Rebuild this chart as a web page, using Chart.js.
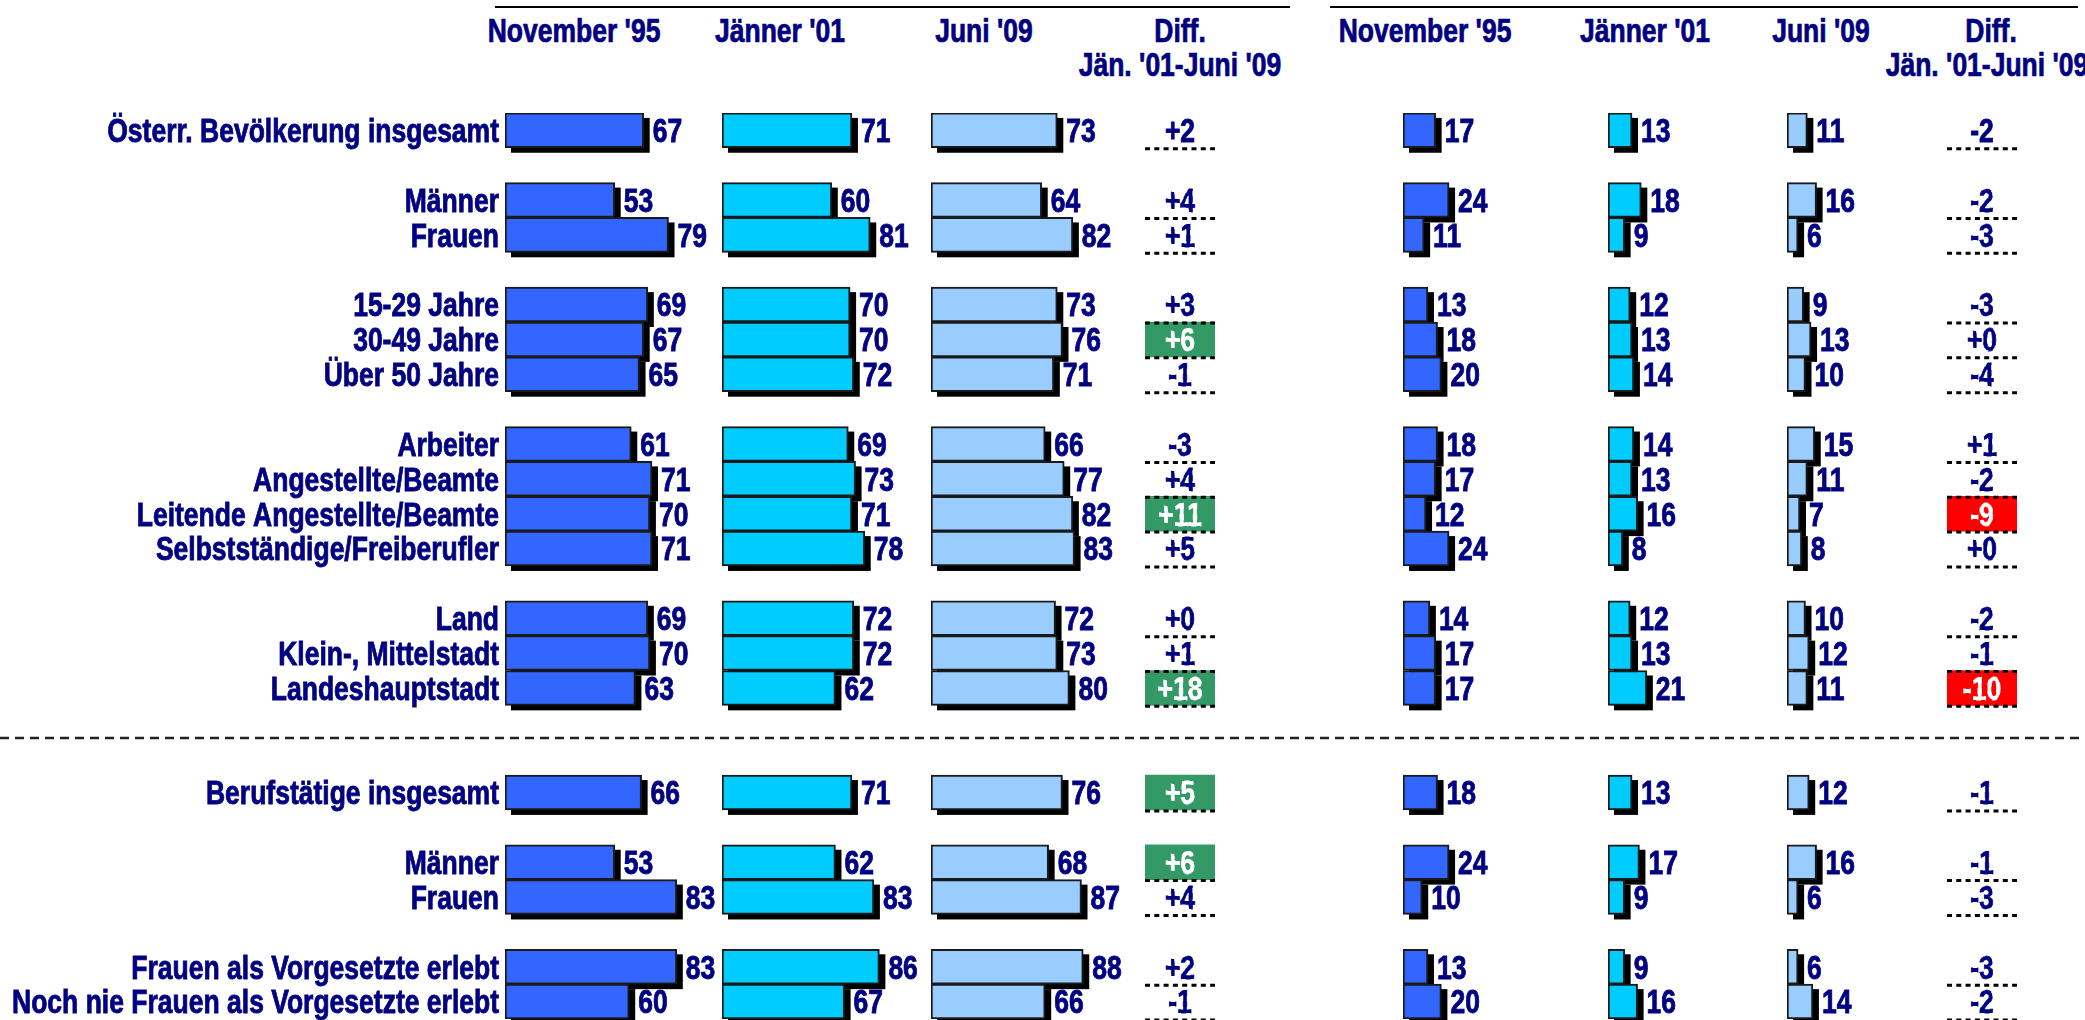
<!DOCTYPE html>
<html>
<head>
<meta charset="utf-8">
<script src="https://cdn.jsdelivr.net/npm/chart.js@4.4.1/dist/chart.umd.min.js"></script>
<style>
  body { margin: 0; background: #fff; width: 2085px; height: 1020px; overflow: hidden; position: relative;
         font-family: 'Liberation Sans', Arial, sans-serif; }
  canvas { position: absolute; top: 0; }
  .hd { position: absolute; transform: translate(-50%, -50%) scaleY(1.22); white-space: nowrap; font-weight: bold;
        font-size: 26.5px; line-height: 1; color: #000080; -webkit-text-stroke: 0.6px #000080; }
  .rule { position: absolute; top: 6px; height: 2px; background: #000; }
  svg { position: absolute; left: 0; top: 0; }
</style>
</head>
<body>
<div class="rule" style="left:495px;width:795px"></div>
<div class="rule" style="left:1330px;width:748px"></div>
<svg width="2085" height="1020"><line x1="0" y1="738" x2="2085" y2="738" stroke="#222" stroke-width="2.5" stroke-dasharray="9 6"/></svg>
<div id="heads"></div>
<script>
// row labels (empty strings are the gaps between groups)
const rows = ['Österr. Bevölkerung insgesamt', '', 'Männer', 'Frauen', '',
  '15-29 Jahre', '30-49 Jahre', 'Über 50 Jahre', '',
  'Arbeiter', 'Angestellte/Beamte', 'Leitende Angestellte/Beamte', 'Selbstständige/Freiberufler', '',
  'Land', 'Klein-, Mittelstadt', 'Landeshauptstadt', '', '',
  'Berufstätige insgesamt', '', 'Männer', 'Frauen', '',
  'Frauen als Vorgesetzte erlebt', 'Noch nie Frauen als Vorgesetzte erlebt'];

// left block
const nov95A = [67, null, 53, 79, null, 69, 67, 65, null, 61, 71, 70, 71, null, 69, 70, 63, null, null, 66, null, 53, 83, null, 83, 60];
const jan01A = [71, null, 60, 81, null, 70, 70, 72, null, 69, 73, 71, 78, null, 72, 72, 62, null, null, 71, null, 62, 83, null, 86, 67];
const jun09A = [73, null, 64, 82, null, 73, 76, 71, null, 66, 77, 82, 83, null, 72, 73, 80, null, null, 76, null, 68, 87, null, 88, 66];
const diffA  = [2, null, 4, 1, null, 3, 6, -1, null, -3, 4, 11, 5, null, 0, 1, 18, null, null, 5, null, 6, 4, null, 2, -1];
const sigA   = [0, 0, 0, 0, 0, 0, 1, 0, 0, 0, 0, 1, 0, 0, 0, 0, 1, 0, 0, 1, 0, 1, 0, 0, 0, 0];

// right block
const nov95B = [17, null, 24, 11, null, 13, 18, 20, null, 18, 17, 12, 24, null, 14, 17, 17, null, null, 18, null, 24, 10, null, 13, 20];
const jan01B = [13, null, 18, 9, null, 12, 13, 14, null, 14, 13, 16, 8, null, 12, 13, 21, null, null, 13, null, 17, 9, null, 9, 16];
const jun09B = [11, null, 16, 6, null, 9, 13, 10, null, 15, 11, 7, 8, null, 10, 12, 11, null, null, 12, null, 16, 6, null, 6, 14];
const diffB  = [-2, null, -2, -3, null, -3, 0, -4, null, 1, -2, -9, 0, null, -2, -1, -10, null, null, -1, null, -1, -3, null, -3, -2];
const sigB   = [0, 0, 0, 0, 0, 0, 0, 0, 0, 0, 0, 1, 0, 0, 0, 0, 1, 0, 0, 0, 0, 0, 0, 0, 0, 0];

const colHeads = ["November '95", "Jänner '01", "Juni '09", 'Diff.'];
const diffSub = "Jän. '01-Juni '09";

const NAVY = '#000080';
const FONT = "bold 26.5px 'Liberation Sans', Arial, sans-serif";
const STRETCH = 1.22;   // the original lettering is tall and narrow
const H = 1020;
const TOP = 112.9, ROWH = 34.85;
const BOTTOM = H - TOP - rows.length * ROWH;

// headers
const heads = document.getElementById('heads');
function head(text, x, y) {
  const d = document.createElement('div');
  d.className = 'hd';
  d.textContent = text;
  d.style.left = x + 'px';
  d.style.top = y + 'px';
  heads.appendChild(d);
}
[574, 780, 984, 1180].forEach((x, i) => head(colHeads[i], x, 31));
head(diffSub, 1180, 65);
[1425, 1645, 1821, 1991].forEach((x, i) => head(colHeads[i], x, 31));
head(diffSub, 1987, 65);

function tallText(ctx, text, x, y) {
  ctx.save();
  ctx.translate(x, y);
  ctx.scale(1, STRETCH);
  ctx.strokeStyle = ctx.fillStyle;
  ctx.lineWidth = 0.7;
  ctx.fillText(text, 0, 0);
  ctx.strokeText(text, 0, 0);
  ctx.restore();
}

// black drop shadow behind each bar
const shadow = {
  id: 'shadow',
  beforeDatasetsDraw(chart) {
    const ctx = chart.ctx;
    const vals = chart.data.datasets[0].data;
    ctx.save();
    ctx.fillStyle = '#000';
    chart.getDatasetMeta(0).data.forEach((el, i) => {
      if (vals[i] == null) return;
      const p = el.getProps(['x', 'y', 'base', 'height'], true);
      ctx.fillRect(p.base + 6, p.y - p.height / 2 + 5, p.x - p.base, p.height);
    });
    ctx.restore();
  }
};

// value next to the bar end, row names left of the first column
const valueLabels = {
  id: 'valueLabels',
  afterDatasetsDraw(chart) {
    const ctx = chart.ctx;
    const vals = chart.data.datasets[0].data;
    ctx.save();
    ctx.font = FONT;
    ctx.fillStyle = NAVY;
    ctx.textBaseline = 'middle';
    ctx.textAlign = 'left';
    chart.getDatasetMeta(0).data.forEach((el, i) => {
      if (vals[i] == null) return;
      const p = el.getProps(['x', 'y'], true);
      tallText(ctx, String(vals[i]), p.x + 9, p.y + 3);
    });
    if (chart.options.plugins.valueLabels.rowNames) {
      const y = chart.scales.y;
      ctx.textAlign = 'right';
      chart.data.labels.forEach((lab, i) => {
        if (lab) tallText(ctx, lab, chart.chartArea.left - 6, y.getPixelForValue(i) + 3);
      });
    }
    ctx.restore();
  }
};

function barChart(left, values, color, ppu, withLabels) {
  const cv = document.createElement('canvas');
  const labelW = withLabels ? left : 0;
  const areaW = 240;
  cv.width = labelW + areaW;
  cv.height = H;
  cv.style.left = (left - labelW) + 'px';
  document.body.appendChild(cv);
  new Chart(cv, {
    type: 'bar',
    data: {
      labels: rows,
      datasets: [{
        data: values,
        backgroundColor: color,
        borderColor: '#1a1a1a',
        borderWidth: 2,
        borderSkipped: false,
        barPercentage: 1,
        categoryPercentage: 1
      }]
    },
    options: {
      indexAxis: 'y',
      responsive: false,
      animation: false,
      layout: { padding: { top: TOP, bottom: BOTTOM, left: labelW, right: 0 } },
      plugins: { legend: { display: false }, tooltip: { enabled: false }, valueLabels: { rowNames: withLabels } },
      scales: {
        x: { display: false, min: 0, max: areaW / ppu },
        y: { display: false }
      }
    },
    plugins: [shadow, valueLabels]
  });
}

function fmtDiff(d) {
  return d > 0 ? '+' + d : (d === 0 ? '+0' : String(d));
}

// difference column: coloured box for significant changes, dotted rule under each row
const diffMarks = {
  id: 'diffMarks',
  afterDatasetsDraw(chart) {
    const ctx = chart.ctx;
    const diffs = chart.options.plugins.diffMarks.diffs;
    const sig = chart.options.plugins.diffMarks.sig;
    const y = chart.scales.y;
    const w = chart.width;
    ctx.save();
    ctx.font = FONT;
    ctx.textAlign = 'center';
    ctx.textBaseline = 'middle';
    diffs.forEach((d, i) => {
      if (d == null) return;
      const yc = y.getPixelForValue(i);
      ctx.fillStyle = sig[i] ? '#fff' : NAVY;
      tallText(ctx, fmtDiff(d), w / 2, yc + 3);
      ctx.beginPath();
      ctx.setLineDash([5, 4.3]);
      ctx.lineWidth = 3;
      ctx.strokeStyle = '#000';
      ctx.moveTo(0, yc + ROWH / 2 + 1);
      ctx.lineTo(w, yc + ROWH / 2 + 1);
      ctx.stroke();
    });
    ctx.restore();
  }
};

function diffChart(left, diffs, sig) {
  const cv = document.createElement('canvas');
  cv.width = 70;
  cv.height = H;
  cv.style.left = left + 'px';
  document.body.appendChild(cv);
  new Chart(cv, {
    type: 'bar',
    data: {
      labels: rows,
      datasets: [{
        data: diffs.map((d, i) => sig[i] ? [0, 1] : null),
        backgroundColor: diffs.map(d => d > 0 ? '#339966' : '#ff0000'),
        borderWidth: 0,
        barPercentage: 1,
        categoryPercentage: 1
      }]
    },
    options: {
      indexAxis: 'y',
      responsive: false,
      animation: false,
      layout: { padding: { top: TOP, bottom: BOTTOM, left: 0, right: 0 } },
      plugins: { legend: { display: false }, tooltip: { enabled: false }, diffMarks: { diffs: diffs, sig: sig } },
      scales: {
        x: { display: false, min: 0, max: 1 },
        y: { display: false }
      }
    },
    plugins: [diffMarks]
  });
}

barChart(505, nov95A, '#3366ff', 2.07, true);
barChart(722, jan01A, '#00ccff', 1.83, false);
barChart(931, jun09A, '#99ccff', 1.73, false);
diffChart(1145, diffA, sigA);

barChart(1403, nov95B, '#3366ff', 1.92, false);
barChart(1608, jan01B, '#00ccff', 1.85, false);
barChart(1787, jun09B, '#99ccff', 1.85, false);
diffChart(1947, diffB, sigB);
</script>
</body>
</html>
